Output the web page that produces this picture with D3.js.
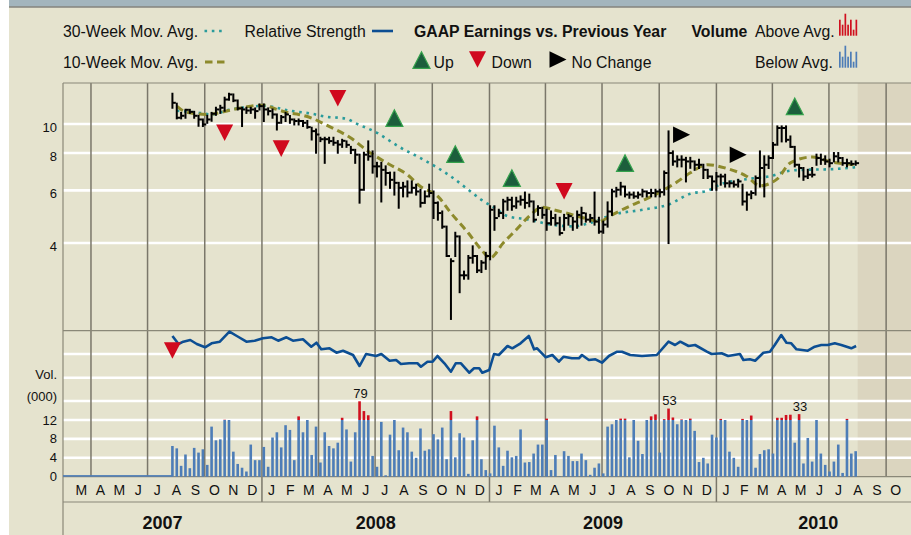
<!DOCTYPE html>
<html>
<head>
<meta charset="utf-8">
<script src="https://cdn.jsdelivr.net/npm/d3@7"></script>
<style>
  body { margin: 0; background: #fff; }
  text { font-family: "Liberation Sans", Arial, sans-serif; fill: #111; }
</style>
</head>
<body>
<div id="chart"></div>
<script>
// weekly bars, week 0 = week of Aug 10 2007
const priceHigh = [12.63,11.7,10.9,11.16,11.16,10.99,10.66,10.36,10.66,10.9,11.34,11.51,12.25,12.63,12.56,11.99,11.34,11.34,11.34,11.28,
  11.63,11.63,11.28,11.19,10.77,10.64,10.9,10.64,10.36,10.36,10.24,10.24,9.72,9.59,9.0,9.0,9.0,9.0,8.77,8.86,
  8.75,8.39,8.2,7.9,8.02,8.75,8.1,7.42,7.42,7.22,6.88,6.88,6.36,6.36,6.43,6.43,6.27,6.03,5.95,6.27,
  5.95,5.47,5.1,4.54,3.53,4.33,4.21,3.21,3.62,3.9,3.62,3.48,3.71,5.31,5.31,5.17,5.58,5.67,5.67,5.67,
  5.73,5.9,5.81,5.51,5.31,5.25,5.17,5.1,4.97,4.86,4.97,4.97,4.86,5.1,5.25,5.02,4.97,5.9,4.86,4.72,
  5.47,6.03,6.12,6.36,6.18,5.9,5.9,5.9,6.03,5.95,6.03,6.03,6.03,6.94,9.45,8.1,7.8,7.8,7.71,7.71,
  7.5,7.6,7.31,7.03,6.68,6.86,6.77,6.77,6.43,6.43,6.51,6.27,5.9,5.95,6.68,8.1,7.8,7.8,8.64,9.82,
  9.82,9.82,9.09,8.39,7.31,7.13,7.03,7.13,7.9,7.9,7.8,7.6,8.0,8.0,7.7,7.6,7.5,7.5];
const priceLow = [11.34,10.45,10.45,10.5,10.9,10.5,9.87,9.85,10.1,10.26,10.74,10.9,11.08,12.06,11.93,11.19,9.85,10.9,10.9,10.5,
  11.19,10.24,10.77,10.5,9.59,10.1,10.24,10.1,9.97,9.97,9.85,9.72,8.88,8.02,8.77,7.42,8.66,8.53,8.02,8.39,
  8.39,8.0,7.42,5.46,6.03,7.6,6.88,6.68,5.51,6.27,6.12,5.81,5.25,5.73,5.73,5.9,5.81,5.3,5.45,5.73,
  4.85,4.79,4.5,3.62,2.23,3.62,2.74,3.04,3.04,3.44,3.2,3.2,3.28,3.53,4.43,4.92,4.85,5.17,5.17,5.25,
  5.38,5.25,5.31,4.72,4.97,4.86,4.43,4.61,4.61,4.27,4.43,4.61,4.43,4.5,4.61,4.72,4.72,4.61,4.33,4.33,
  4.54,4.97,5.73,5.81,5.73,5.67,5.67,5.67,5.73,5.73,5.73,5.73,5.73,5.81,4.0,7.31,7.22,7.22,6.43,7.14,
  7.03,7.13,6.6,6.6,6.03,6.03,6.27,6.18,6.18,6.18,6.18,5.38,5.17,5.65,5.81,6.18,5.73,7.13,7.7,8.53,
  8.75,8.75,8.39,7.22,6.68,6.51,6.6,6.68,7.31,7.36,7.36,7.22,7.5,7.5,7.31,7.22,7.31,7.31];
const priceClose = [11.78,10.5,10.66,11.16,10.99,10.66,10.36,9.97,10.36,10.83,11.19,11.34,12.08,12.56,11.99,11.28,11.19,11.1,11.19,11.05,
  11.48,11.19,11.05,10.77,10.1,10.55,10.77,10.36,10.24,10.24,10.1,9.77,9.47,9.23,8.9,8.9,8.77,8.66,8.54,8.79,
  8.52,8.2,7.9,6.03,7.9,7.8,7.22,7.22,7.03,6.86,6.51,6.36,6.12,6.18,5.9,6.12,5.95,5.45,5.73,5.88,
  5.45,5.04,4.54,3.62,3.48,4.21,3.12,3.12,3.57,3.62,3.24,3.44,3.62,5.17,4.85,5.04,5.51,5.58,5.31,5.51,
  5.58,5.45,5.51,4.79,5.24,4.97,4.66,4.85,4.66,4.32,4.85,4.92,4.72,4.97,5.04,4.79,4.85,4.72,4.37,4.61,
  5.1,5.95,6.03,6.18,5.81,5.81,5.73,5.81,5.95,5.88,5.88,5.95,5.92,6.86,8.0,7.5,7.6,7.6,7.5,7.5,
  7.31,7.31,7.03,6.68,6.43,6.68,6.68,6.34,6.34,6.27,6.43,5.51,5.81,5.88,6.6,7.13,7.31,7.7,8.53,9.7,
  9.7,8.86,8.39,7.31,7.13,6.68,6.77,6.77,7.7,7.6,7.5,7.4,7.8,7.7,7.4,7.4,7.36,7.4];
// volume in thousands of shares
const volume = [6.5,6.0,2.3,4.7,1.8,6.1,5.1,5.8,2.5,10.6,7.7,7.9,13,12,5.3,2.7,1.9,1.1,6.8,3.5,
  3.5,6.3,2.1,8.3,9.4,6.2,10.9,9.9,3.5,25,9.4,12,4.6,10.6,3.0,9.4,6.5,6.0,7.2,20,
  10,3.2,9.4,79,44,29,4.4,2.1,11.6,0.3,8.9,12,5.6,10.4,9.4,5.3,4.0,10.2,5.5,5.8,
  9.0,7.9,10.4,3.7,44,4.1,9.2,8.3,0.6,7.7,25,3.7,1.4,0.7,10.8,6.2,2.3,5.5,4.1,4.4,
  10.0,3.0,3.1,4.9,6.8,6.8,17,1.4,4.6,0.1,5.4,4.4,3.3,3.3,4.9,3.5,0.4,1.9,2.8,0.7,
  10.6,11.1,12,17,17,4.1,12,7.6,4.8,12,25,32,5.1,15,53,21,11.1,14,12,17,
  9.7,3.1,4.0,2.8,8.9,8.3,16,12,5.3,4.0,2.1,16,12,28,1.9,4.8,5.6,5.8,4.9,20,
  20,30,31,7.2,33,2.8,8.2,3.2,12,4.9,2.5,1.1,3.2,6.8,0.8,16,4.9,5.4];
const volumeLabelWeeks = [43, 114, 144];

const rsWeek = [0,1.4,2.5,4.1,5.6,7.5,9,10.9,13.1,14.8,17,18.9,20.8,22.8,24.3,26.2,27.7,30,31.9,33.1,
  34.2,36.1,37.7,39.2,41.5,43,44.5,46.8,48,49.9,51.4,52.5,54.4,56.3,57.1,58.6,59.8,60.9,62.5,64,
  65.1,66.3,68.2,69.3,70.5,71.2,72.8,73.9,75,77,78.1,80,81.9,83.1,83.8,85.8,87.3,88.8,89.9,91.8,
  93.4,94.1,95.7,97.2,98.7,100.3,102.2,103.3,105.2,107.9,111.3,114,115.5,116.7,118.6,120.1,122.8,123.9,126.2,127.7,
  130.4,131.2,132.7,133.9,135.8,137.3,138.4,139.9,141.1,142.2,143.4,146,147.6,149.1,150.6,152.2,153.7,156,157.1];
const rsValue = [94,86,88.3,90,86,82.7,86.7,88.3,98.3,94,88.3,89.3,91.7,92.7,89.3,92.7,89.3,90.7,83.3,87.3,
  80.7,81.7,77.3,79.3,75,64,76,74,76,69.3,70,66,66.7,66.7,63.3,68.3,68.3,74,66.7,58.3,
  66.7,66.7,57.3,61.7,61.7,57.3,60,76,75,84,81.7,86.7,94,80.7,81.7,72.7,75,68.3,73.3,71.7,
  71.7,75,70,70.7,67.3,74,78.3,78.3,75,74,75,88.3,85,88.3,84,85,78.3,76,76.7,74,
  76,70,70.7,69.3,77.3,78.3,85,95,87.3,86.7,80.7,79.3,83.3,85,85,86.7,85,81.7,84];

const ma10Week = [1,3,8,14,18,21,24,27,29,32,36,41,45,50,54,57,61,64,68,71,73,76,79,82,85,88,92,96,98,101,
  105,109,113,116,119,123,127,132,135,139,142,147,151,157];
const ma10Value = [11.48,10.99,10.77,11.19,11.48,11.57,11.19,10.88,10.77,10.47,9.82,8.98,8.1,7.31,6.77,6.18,5.73,5.04,4.32,3.80,
  3.57,4.0,4.43,4.92,5.27,5.15,4.97,4.79,4.72,4.97,5.31,5.63,6.03,6.41,6.87,7.31,7.13,6.68,6.22,6.56,
  7.42,7.76,7.49,7.31];
const ma30Week = [1,6,9,13,18,21,27,32,35,40,42,47,52,59,64,68,71,74,77,82,87,92,96,101,108,114,119,123,126,131,
  134,137,142,145,151,157];
const ma30Value = [11.08,10.91,10.77,11.16,11.42,11.51,11.08,10.83,10.60,10.42,10.08,9.35,8.41,7.42,6.68,6.03,5.58,5.25,4.92,4.79,
  4.61,4.55,4.67,4.97,5.17,5.38,5.85,5.99,6.29,6.51,6.6,6.68,6.99,7.03,7.06,7.17];

// earnings vs previous year markers
const upWeek = [51, 65, 78, 104, 143];
const upPrice = [10.47, 7.94, 6.6, 7.4, 11.46];
const downWeek = [12, 25, 38, 90];
const downPrice = [9.35, 8.28, 12.2, 5.96];
const flatWeek = [117, 130];
const flatPrice = [9.21, 7.9];
const rsDownWeek = [0];
const rsDownValue = [79.5];

const priceTicks = [4, 6, 8, 10];
const volumeTicks = [0, 4, 8, 12];
const rsGrid = [76, 52.3, 29];
const years = [2007, 2008, 2009, 2010];
const legendBars = [16, 11, 22, 11, 16, 6, 16];

const colors = {
  bg: "#e5e3ce", future: "#dbd5bf", band: "#a3b5bd", frame: "#8a8878", quarter: "#7a776a",
  teal: "#2a9b9b", olive: "#8d8a2c", rs: "#0c4e93", volBlue: "#4d7db7", volRed: "#d0101f",
  up: "#1c5e3c", upEdge: "#35a24c", down: "#d0091e"
};

const firstWeek = new Date(2007, 7, 10);
const dayMs = 864e5;
const x = d3.scaleTime().domain([new Date(2007, 1, 15), new Date(2010, 10, 10)]).range([63, 911]);
const weekX = w => x(new Date(firstWeek.getTime() + w * 7 * dayMs));
const yPrice = d3.scaleLog().domain([2.04, 13.72]).range([330.5, 83]);
const yRS = d3.scaleLinear().domain([0, 100]).range([430, 330]);
const yVol = d3.scaleLinear().domain([0, 12, 79]).range([476.7, 420, 401.3]);
const plotTop = 83, panelSplit = 330.7, volBase = yVol(0), monthRow = 502;

const svg = d3.select("#chart").append("svg").attr("width", 911).attr("height", 535);

// background
svg.append("rect").attr("x", 9).attr("y", 0).attr("width", 902).attr("height", 535).attr("fill", colors.bg);
svg.append("rect").attr("x", 9).attr("y", 0).attr("width", 902).attr("height", 6.5).attr("fill", colors.band);
svg.append("line").attr("x1", 9).attr("x2", 911).attr("y1", 7).attr("y2", 7).attr("stroke", "#555").attr("stroke-width", 1.2);

// shaded area after last week
const lastX = weekX(priceClose.length - 1) + 2;
svg.append("rect").attr("x", lastX).attr("y", plotTop).attr("width", 911 - lastX).attr("height", volBase - plotTop)
  .attr("fill", colors.future);

// white grid lines
svg.append("g").selectAll("line").data(priceTicks).enter().append("line")
  .attr("x1", 63).attr("x2", 911).attr("y1", d => yPrice(d)).attr("y2", d => yPrice(d))
  .attr("stroke", "#fff").attr("stroke-width", 2.6);
svg.append("g").selectAll("line").data(volumeTicks.filter(d => d > 0)).enter().append("line")
  .attr("x1", 63).attr("x2", 911).attr("y1", d => yVol(d)).attr("y2", d => yVol(d))
  .attr("stroke", "#fff").attr("stroke-width", 2.6);
svg.append("g").selectAll("line").data(rsGrid).enter().append("line")
  .attr("x1", 63).attr("x2", 911).attr("y1", d => yRS(d)).attr("y2", d => yRS(d))
  .attr("stroke", "#fff").attr("stroke-width", 2.6);

// quarter lines
const quarters = d3.timeMonth.range(new Date(2007, 3, 1), new Date(2010, 10, 2), 3);
svg.append("g").selectAll("line").data(quarters).enter().append("line")
  .attr("x1", d => x(d)).attr("x2", d => x(d))
  .attr("y1", plotTop).attr("y2", d => d.getMonth() === 0 ? monthRow : volBase)
  .attr("stroke", colors.quarter).attr("stroke-width", 1.5);

// frame
const frame = svg.append("g").attr("stroke", colors.frame).attr("stroke-width", 1.2);
[plotTop, panelSplit, volBase, monthRow].forEach(yy => {
  frame.append("line").attr("x1", 63).attr("x2", 911).attr("y1", yy).attr("y2", yy);
});
frame.append("line").attr("x1", 63).attr("x2", 63).attr("y1", plotTop).attr("y2", 535);

// volume bars
const volData = volume.map((v, i) => ({ i, v }));
const volG = svg.append("g");
volG.append("rect").attr("x", 63).attr("y", volBase - 1.6).attr("width", weekX(0) - 63).attr("height", 1.6)
  .attr("fill", colors.volBlue);
volG.selectAll(".vb").data(volData).enter().append("rect").attr("class", "vb")
  .attr("x", d => weekX(d.i) - 1.3).attr("width", 2.6)
  .attr("y", d => yVol(Math.min(d.v, 12))).attr("height", d => volBase - yVol(Math.min(d.v, 12)))
  .attr("fill", colors.volBlue);
volG.selectAll(".vr").data(volData.filter(d => d.v > 12)).enter().append("rect").attr("class", "vr")
  .attr("x", d => weekX(d.i) - 1.3).attr("width", 2.6)
  .attr("y", d => yVol(d.v)).attr("height", d => yVol(12) - yVol(d.v))
  .attr("fill", colors.volRed);
volG.selectAll("text").data(volumeLabelWeeks).enter().append("text")
  .attr("x", d => weekX(d) + 1).attr("y", d => yVol(volume[d]) - 3.5)
  .attr("text-anchor", "middle").attr("font-size", 13).text(d => volume[d]);

// relative strength line
svg.append("path")
  .datum(rsWeek.map((w, k) => [w, rsValue[k]]))
  .attr("fill", "none").attr("stroke", colors.rs).attr("stroke-width", 2.6).attr("stroke-linejoin", "round")
  .attr("d", d3.line().x(d => weekX(d[0])).y(d => yRS(d[1])));

// moving averages
const maLine = d3.line().curve(d3.curveMonotoneX).x(d => weekX(d[0])).y(d => yPrice(d[1]));
svg.append("path").datum(ma30Week.map((w, k) => [w, ma30Value[k]]))
  .attr("fill", "none").attr("stroke", colors.teal).attr("stroke-width", 2.6)
  .attr("stroke-dasharray", "2.6 4.7").attr("d", maLine);
svg.append("path").datum(ma10Week.map((w, k) => [w, ma10Value[k]]))
  .attr("fill", "none").attr("stroke", colors.olive).attr("stroke-width", 3)
  .attr("stroke-dasharray", "7.5 4.5").attr("d", maLine);

// weekly price bars
const bars = svg.append("g").attr("stroke", "#000").attr("stroke-width", 2);
priceClose.forEach((c, i) => {
  const bx = weekX(i);
  bars.append("line").attr("x1", bx).attr("x2", bx)
    .attr("y1", yPrice(priceHigh[i]) - 1).attr("y2", yPrice(priceLow[i]) + 1);
  bars.append("line").attr("x1", bx).attr("x2", bx + 3.4)
    .attr("y1", yPrice(c)).attr("y2", yPrice(c));
});

// earnings triangles
const triUp = (cx, cy) => `M${cx - 8.5},${cy + 8.3}L${cx},${cy - 8.3}L${cx + 8.5},${cy + 8.3}Z`;
const triDown = (cx, cy) => `M${cx - 8.5},${cy - 8.3}L${cx + 8.5},${cy - 8.3}L${cx},${cy + 8.3}Z`;
const triRight = (cx, cy) => `M${cx - 8.5},${cy - 8.3}L${cx + 8.5},${cy}L${cx - 8.5},${cy + 8.3}Z`;
const marks = svg.append("g");
upWeek.forEach((w, k) => marks.append("path").attr("d", triUp(weekX(w), yPrice(upPrice[k])))
  .attr("fill", colors.up).attr("stroke", colors.upEdge).attr("stroke-width", 1.2));
downWeek.forEach((w, k) => marks.append("path").attr("d", triDown(weekX(w), yPrice(downPrice[k])))
  .attr("fill", colors.down));
flatWeek.forEach((w, k) => marks.append("path").attr("d", triRight(weekX(w), yPrice(flatPrice[k])))
  .attr("fill", "#000"));
rsDownWeek.forEach((w, k) => marks.append("path").attr("d", triDown(weekX(w), yRS(rsDownValue[k])))
  .attr("fill", colors.down));

// left labels
const left = svg.append("g").attr("text-anchor", "end").attr("font-size", 13);
priceTicks.forEach(t => left.append("text").attr("x", 57).attr("y", yPrice(t) + 8).text(t));
volumeTicks.forEach(t => left.append("text").attr("x", 57).attr("y", yVol(t) + 4.5).text(t));
left.append("text").attr("x", 57).attr("y", 379).text("Vol.");
left.append("text").attr("x", 57).attr("y", 400.5).text("(000)");

// month and year labels
const months = d3.timeMonth.range(new Date(2007, 2, 1), new Date(2010, 10, 1));
svg.append("g").selectAll("text").data(months).enter().append("text")
  .attr("x", d => (x(d) + x(d3.timeMonth.offset(d, 1))) / 2).attr("y", 494.5)
  .attr("text-anchor", "middle").attr("font-size", 14)
  .text(d => d3.timeFormat("%b")(d)[0]);
const axisEnd = new Date(2010, 10, 25);
svg.append("g").selectAll("text").data(years).enter().append("text")
  .attr("x", d => {
    const a = Math.max(x(new Date(d, 0, 1)), 63);
    const b = Math.min(x(new Date(d + 1, 0, 1)), x(axisEnd));
    return (a + b) / 2;
  })
  .attr("y", 528.5).attr("text-anchor", "middle").attr("font-size", 18).attr("font-weight", "bold")
  .text(d => d);

// legend
const lg = svg.append("g").attr("font-size", 15.8);
lg.append("text").attr("x", 63).attr("y", 36.5).text("30-Week Mov. Avg.");
lg.append("line").attr("x1", 204.5).attr("x2", 224).attr("y1", 31).attr("y2", 31)
  .attr("stroke", colors.teal).attr("stroke-width", 2.6).attr("stroke-dasharray", "2.6 4.7");
lg.append("text").attr("x", 244.5).attr("y", 36.5).text("Relative Strength");
lg.append("line").attr("x1", 372).attr("x2", 393).attr("y1", 31).attr("y2", 31)
  .attr("stroke", colors.rs).attr("stroke-width", 2.6);
lg.append("text").attr("x", 414).attr("y", 36.5).attr("font-weight", "bold").text("GAAP Earnings vs. Previous Year");
lg.append("text").attr("x", 691.5).attr("y", 36.5).attr("font-weight", "bold").text("Volume");
lg.append("text").attr("x", 755).attr("y", 36.5).text("Above Avg.");
lg.append("text").attr("x", 63).attr("y", 68).text("10-Week Mov. Avg.");
lg.append("line").attr("x1", 205).attr("x2", 227).attr("y1", 62).attr("y2", 62)
  .attr("stroke", colors.olive).attr("stroke-width", 3).attr("stroke-dasharray", "7.5 4.5");
lg.append("path").attr("d", triUp(421.5, 60)).attr("fill", colors.up).attr("stroke", colors.upEdge).attr("stroke-width", 1.2);
lg.append("text").attr("x", 433.5).attr("y", 68).text("Up");
lg.append("path").attr("d", triDown(477.5, 59.5)).attr("fill", colors.down);
lg.append("text").attr("x", 491.5).attr("y", 68).text("Down");
lg.append("path").attr("d", triRight(558, 59.5)).attr("fill", "#000");
lg.append("text").attr("x", 571.5).attr("y", 68).text("No Change");
lg.append("text").attr("x", 755).attr("y", 68).text("Below Avg.");
[[35.7, colors.volRed], [67.7, colors.volBlue]].forEach(([base, col]) => {
  lg.append("g").selectAll("rect").data(legendBars).enter().append("rect")
    .attr("x", (d, k) => 839 + k * 2.75).attr("width", 1.7)
    .attr("y", d => base - d).attr("height", d => d).attr("fill", col);
});
</script>
</body>
</html>
